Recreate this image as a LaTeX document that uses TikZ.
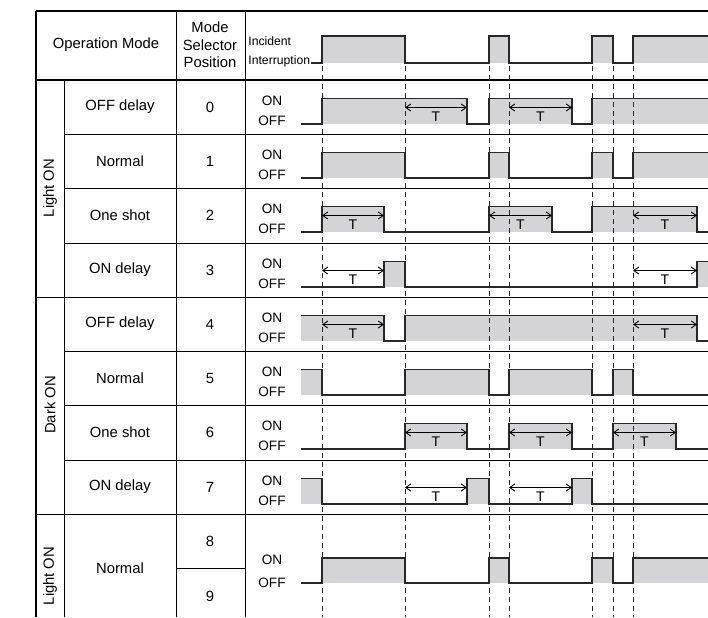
\documentclass[tikz,border=0pt]{standalone}
\usepackage{fontspec}
\setmainfont{Liberation Sans}
\usetikzlibrary{arrows.meta}
\definecolor{sigfill}{RGB}{212,212,214}
\definecolor{sigline}{RGB}{40,40,40}
% one output line: start x, high y, low y, list of high intervals
\newcommand{\sigwave}[4]{%
  \foreach \a/\b in {#4} {\fill[sigfill] (\a,#2) rectangle (\b,#3);}
  \draw[sig] (#1,#3) \foreach \a/\b in {#4} {-- (\a,#3) -- (\a,#2) -- (\b,#2) -- (\b,#3)} -- (720,#3);
}

\begin{document}
\begin{tikzpicture}[x=0.5pt,y=-0.5pt,
    rule/.style={line width=0.5pt},
    thickrule/.style={line width=1pt},
    sig/.style={sigline,line width=0.6pt},
    instant/.style={sigline,line width=0.5pt,dash pattern=on 2.5pt off 2pt},
    tspan/.style={{Straight Barb[length=2.5pt,width=3.5pt]}-{Straight Barb[length=2.5pt,width=3.5pt]},line width=0.45pt},
    tlab/.style={font=\fontsize{7}{8}\selectfont,inner sep=0pt,below=2.2pt},
    txt/.style={font=\fontsize{7.4}{8.75}\selectfont,align=center,inner sep=0pt},
    onoff/.style={font=\fontsize{6.8}{8}\selectfont,inner sep=0pt},
    smalltxt/.style={font=\fontsize{6.1}{7}\selectfont,inner sep=0pt,anchor=west}]
    \useasboundingbox (0,0) rectangle (708,617);

    % table
    \draw[thickrule] (36,11) -- (708,11);
    \draw[thickrule] (36,80) -- (708,80);
    \draw[thickrule] (36,11) -- (36,617);
    \draw[rule] (64,80) -- (64,617);
    \draw[rule] (176,11) -- (176,617);
    \draw[rule] (245,11) -- (245,617);
    \foreach \y in {134,188,243,351,405,460}
        \draw[rule] (64,\y) -- (708,\y);
    \foreach \y in {297,514}
        \draw[rule] (36,\y) -- (708,\y);
    \draw[rule] (176,568) -- (245,568);

    % waveforms
    \begin{scope}
        \clip (301,0) rectangle (708,617);
        \sigwave{311}{36}{63}{322/405,489/509,592/613,633/720}
        \sigwave{290}{98.5}{124}{322/467,489/572,592/720}
        \sigwave{290}{152.5}{178}{322/405,489/509,592/613,633/720}
        \sigwave{290}{206.5}{232}{322/384,489/552,592/697}
        \sigwave{290}{261.5}{287}{384/405,697/720}
        \sigwave{280}{315.5}{341}{290/384,405/697}
        \sigwave{280}{369.5}{395}{290/322,405/489,509/592,613/633}
        \sigwave{290}{423.5}{449}{405/467,509/572,613/676}
        \sigwave{280}{478.5}{504}{290/322,467/489,572/592}
        \sigwave{290}{558}{583}{322/405,489/509,592/613,633/720}
    \end{scope}
    \foreach \x in {322,405,489,509,592,613,633}
        \draw[instant] (\x,66) -- (\x,617);

    % delay times
    \draw[tspan] (405,107.5) -- (467,107.5) node[tlab,midway] (t01) {T};
    \draw[tspan] (509,107.5) -- (572,107.5) node[tlab,midway] (t02) {T};
    \draw[tspan] (322,215.5) -- (384,215.5) node[tlab,midway] (t21) {T};
    \draw[tspan] (489,215.5) -- (552,215.5) node[tlab,midway] (t22) {T};
    \draw[tspan] (633,215.5) -- (697,215.5) node[tlab,midway] (t23) {T};
    \draw[tspan] (322,270.5) -- (384,270.5) node[tlab,midway] (t31) {T};
    \draw[tspan] (633,270.5) -- (697,270.5) node[tlab,midway] (t32) {T};
    \draw[tspan] (322,324.5) -- (384,324.5) node[tlab,midway] (t41) {T};
    \draw[tspan] (633,324.5) -- (697,324.5) node[tlab,midway] (t42) {T};
    \draw[tspan] (405,432.5) -- (467,432.5) node[tlab,midway] (t61) {T};
    \draw[tspan] (509,432.5) -- (572,432.5) node[tlab,midway] (t62) {T};
    \draw[tspan] (613,432.5) -- (676,432.5) node[tlab,midway] (t63) {T};
    \draw[tspan] (405,487.5) -- (467,487.5) node[tlab,midway] (t71) {T};
    \draw[tspan] (509,487.5) -- (572,487.5) node[tlab,midway] (t72) {T};

    % labels
    \node[txt] (opmode) at (106,45) {Operation Mode};
    \node[txt] (selpos) at (210,45) {Mode\\Selector\\Position};
    \node[smalltxt] (incid) at (248,41.5) {Incident};
    \node[smalltxt] (interr) at (248,61) {Interruption};
    \node[txt,rotate=90] (lighta) at (50,188) {Light ON};
    \node[txt,rotate=90] (dark) at (50,405) {Dark ON};
    \node[txt,rotate=90] (lightb) at (50,576) {Light ON};
    \foreach \t/\m/\n in {80/OFF delay/0,134/Normal/1,188/One shot/2,243/ON delay/3,
                          297/OFF delay/4,351/Normal/5,405/One shot/6,460/ON delay/7} {
        \node[txt] (mode\n) at (120,\t+27) {\m};
        \node[txt] (pos\n) at (210,\t+27) {\n};
        \node[onoff] (on\n) at (272,\t+20.5) {ON};
        \node[onoff] (off\n) at (272,\t+40.5) {OFF};
    }
    \node[txt] (mode8) at (120,568) {Normal};
    \node[txt] (pos8) at (210,541) {8};
    \node[txt] (pos9) at (210,596) {9};
    \node[onoff] (on8) at (272,560) {ON};
    \node[onoff] (off8) at (272,583) {OFF};
\end{tikzpicture}
\end{document}
